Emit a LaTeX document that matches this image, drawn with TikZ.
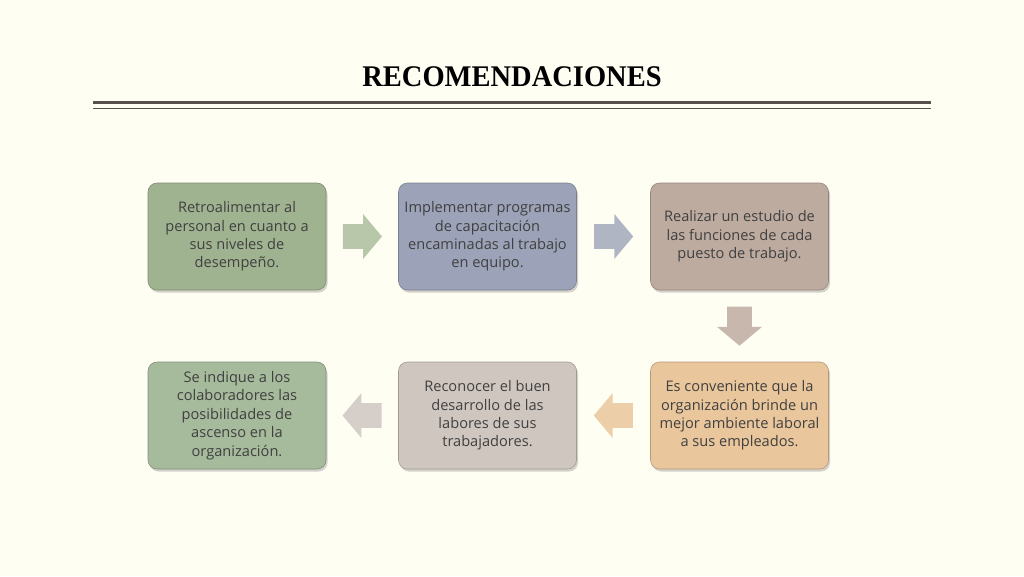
\documentclass[tikz,border=0pt]{standalone}
\usepackage{fontspec}
\setmainfont{Liberation Serif}
\newfontfamily\boxfont{Open Sans}
\usetikzlibrary{shapes.arrows,shadows,calc}

\definecolor{paper}{HTML}{FFFEF3}
\definecolor{inkgray}{HTML}{404040}
\definecolor{rulegray}{HTML}{57524C}
\definecolor{sage}{HTML}{A0B391}
\definecolor{slate}{HTML}{9CA3B8}
\definecolor{taupe}{HTML}{BEAB9F}
\definecolor{sand}{HTML}{E9C69C}
\definecolor{ash}{HTML}{CFC6C0}
\definecolor{moss}{HTML}{A6BA9C}

\tikzset{
  recbox/.style={draw=#1!78!black, line width=0.6pt, fill=#1, rounded corners=9pt,
    minimum width=178pt, minimum height=107pt, align=center,
    font=\boxfont\fontsize{14.6}{18.4}\selectfont, text=inkgray,
    drop shadow={shadow xshift=1.5pt, shadow yshift=-2.5pt, opacity=0.35}},
  flowarrow/.style={single arrow, draw=none, fill=#1, minimum height=39pt,
    minimum width=45pt, single arrow head extend=10pt, inner sep=12pt,
    single arrow tip angle=100}
}

\begin{document}
\begin{tikzpicture}[x=1pt,y=-1pt]
\useasboundingbox[fill=paper] (0,0) rectangle (1024,576);

% title and the double rule under it
\node[font=\fontsize{30}{34}\selectfont\bfseries, text=black, xscale=0.95] (title) at (512,77) {RECOMENDACIONES};
\draw[rulegray, line width=3.5pt] (93,102.5) -- (931,102.5);
\draw[rulegray, line width=0.9pt] (93,108.5) -- (931,108.5);

% top row
\node[recbox=sage] (ret) at (237,236.5) {Retroalimentar al\\personal en cuanto a\\sus niveles de\\desempeño.};
\node[recbox=slate] (imp) at (487.5,236.5) {Implementar programas\\de capacitación\\encaminadas al trabajo\\en equipo.};
\node[recbox=taupe] (rea) at (739.5,236.5) {Realizar un estudio de\\las funciones de cada\\puesto de trabajo.};

% bottom row
\node[recbox=sand] (amb) at (739.5,415.5) {Es conveniente que la\\organización brinde un\\mejor ambiente laboral\\a sus empleados.};
\node[recbox=ash] (rec) at (487.5,415.5) {Reconocer el buen\\desarrollo de las\\labores de sus\\trabajadores.};
\node[recbox=moss] (asc) at (237,415.5) {Se indique a los\\colaboradores las\\posibilidades de\\ascenso en la\\organización.};

% block arrows between the boxes (pulled back a little, the node centre sits on the shaft)
\node[flowarrow=sage!75!paper, xshift=-5pt] (a1) at ($(ret.east)!0.5!(imp.west)$) {};
\node[flowarrow=slate!80!paper, xshift=-5pt] (a2) at ($(imp.east)!0.5!(rea.west)$) {};
\node[flowarrow=taupe!85!paper, shape border rotate=270, yshift=5pt] (a3) at ($(rea.south)!0.5!(amb.north)$) {};
\node[flowarrow=sand!85!paper, shape border rotate=180, xshift=5pt] (a4) at ($(amb.west)!0.5!(rec.east)$) {};
\node[flowarrow=ash!85!paper, shape border rotate=180, xshift=5pt] (a5) at ($(rec.west)!0.5!(asc.east)$) {};
\end{tikzpicture}
\end{document}
